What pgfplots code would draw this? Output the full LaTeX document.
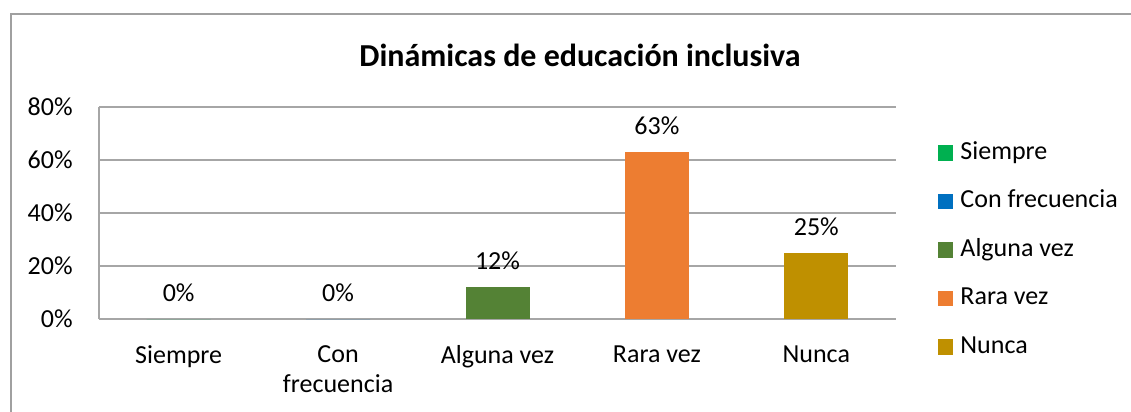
\documentclass[border=0pt]{standalone}
\usepackage{fontspec}
\setmainfont{Carlito}
\usepackage{pgfplots}
\pgfplotsset{compat=1.18}

\definecolor{cSiempre}{HTML}{00B050}
\definecolor{cFrec}{HTML}{0070C0}
\definecolor{cAlguna}{HTML}{548235}
\definecolor{cRara}{HTML}{ED7D31}
\definecolor{cNunca}{HTML}{BF9000}
\definecolor{gridgray}{HTML}{A6A6A6}
\definecolor{framegray}{HTML}{A0A0A0}

\begin{document}
\begin{tikzpicture}
\useasboundingbox (0,0) rectangle (565.5pt,-206pt);
% chart frame (only left and top edges are visible in the crop)
\draw[framegray, line width=1pt] (5.5pt,-210pt) -- (5.5pt,-7pt) -- (570pt,-7pt);
\node[font=\fontsize{16}{18}\selectfont\bfseries] at (290pt,-27.5pt) {Dinámicas de educación inclusiva};

\begin{axis}[
    at={(49.5pt,-159.5pt)}, anchor=south west,
    width=398.5pt, height=106pt, scale only axis,
    ybar, bar width=32pt, bar shift=0pt,
    xmin=-0.5, xmax=4.5,
    ymin=0, ymax=80, ytick={0,20,40,60,80},
    xtick={0,1,2,3,4},
    xticklabels={Siempre, Con\\frecuencia, Alguna vez, Rara vez, Nunca},
    axis lines=left,
    axis line style={-, gridgray, line width=0.6pt},
    ymajorgrids=true,
    grid style={gridgray, line width=0.6pt},
    major tick length=0pt,
    /pgf/number format/assume math mode=true,
    yticklabel={\pgfmathprintnumber{\tick}\%},
    yticklabel style={anchor=east, inner sep=0pt, xshift=-13pt, font=\fontsize{13}{15}\selectfont},
    xticklabel style={anchor=north, inner sep=0pt, yshift=-13pt, align=center, font=\fontsize{13}{15}\selectfont},
    nodes near coords={\pgfmathprintnumber{\pgfplotspointmeta}\%},
    every node near coord/.append style={anchor=center, yshift=13pt, font=\fontsize{13}{15}\selectfont, black},
    legend style={draw=none, fill=none, at={(1.052,0.86)}, anchor=north west,
        inner sep=0pt, row sep=8.25pt, font=\fontsize{13}{15}\selectfont,
        nodes={text height=9pt, text depth=3pt, inner xsep=3.5pt}},
    legend cell align=left,
    legend image code/.code={\fill[#1] (0pt,-3.9pt) rectangle (7.8pt,3.9pt);},
]
\addplot[fill=cSiempre, draw=none] coordinates {(0,0)};
\addlegendentry{Siempre}
\addplot[fill=cFrec, draw=none] coordinates {(1,0)};
\addlegendentry{Con frecuencia}
\addplot[fill=cAlguna, draw=none] coordinates {(2,12)};
\addlegendentry{Alguna vez}
\addplot[fill=cRara, draw=none] coordinates {(3,63)};
\addlegendentry{Rara vez}
\addplot[fill=cNunca, draw=none] coordinates {(4,25)};
\addlegendentry{Nunca}
\end{axis}
\end{tikzpicture}
\end{document}
